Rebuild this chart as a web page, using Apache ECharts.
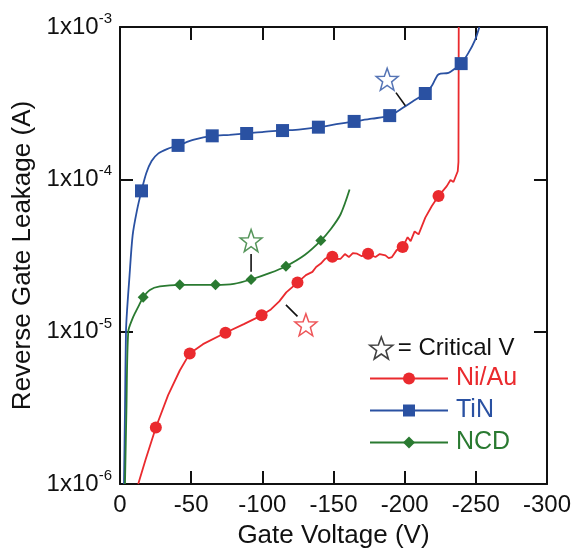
<!DOCTYPE html>
<html>
<head>
<meta charset="utf-8">
<script src="https://cdn.jsdelivr.net/npm/echarts@6/dist/echarts.min.js"></script>
<style>
  html, body { margin: 0; padding: 0; background: #fff; }
  #chart { width: 574px; height: 554px; }
</style>
</head>
<body>
<div id="chart"></div>
<script>
// gate voltage (V) vs reverse gate leakage (A)
const niauCurve = [
  [-12.8, 1e-6], [-18, 1.45e-6], [-25.2, 2.35e-6], [-33.8, 3.83e-6], [-42, 5.56e-6],
  [-49, 7.2e-6], [-58.3, 8.28e-6], [-74.1, 9.84e-6], [-87, 1.12e-5], [-99.5, 1.28e-5],
  [-106, 1.4e-5], [-111.9, 1.58e-5], [-116.8, 1.81e-5], [-124.7, 2.1e-5], [-130.6, 2.35e-5],
  [-135.2, 2.47e-5], [-137.8, 2.66e-5], [-141.1, 2.8e-5], [-144.1, 3.0e-5], [-148, 3.17e-5],
  [-151, 3.0e-5], [-155, 3.01e-5], [-158, 3.23e-5], [-160.8, 3.09e-5], [-163.6, 3.28e-5],
  [-166.6, 3.25e-5], [-169.9, 3.13e-5], [-173.6, 3.32e-5], [-176.2, 3.18e-5], [-179.5, 3.09e-5],
  [-182.5, 3.23e-5], [-186.5, 3.17e-5], [-188.8, 3.04e-5], [-191.1, 3.09e-5], [-194.4, 3.43e-5],
  [-198.6, 3.59e-5], [-202.1, 4.17e-5], [-204.2, 3.93e-5], [-207, 4.55e-5], [-209.8, 4.35e-5],
  [-214.5, 5.61e-5], [-219.1, 6.68e-5], [-223.8, 7.76e-5], [-229.6, 9.02e-5], [-232.2, 9.9e-5],
  [-234.3, 9.6e-5], [-237.3, 1.13e-4], [-237.8, 1.3e-4], [-238, 1e-3]
];
const niauMarks = [
  [-25.2, 2.35e-6], [-49, 7.2e-6], [-74.1, 9.84e-6], [-99.5, 1.28e-5], [-124.7, 2.1e-5],
  [-149.2, 3.1e-5], [-174.3, 3.25e-5], [-198.6, 3.59e-5], [-223.8, 7.76e-5]
];

const tinCurve = [
  [-2.8, 1e-6], [-3.5, 3e-6], [-4.2, 1e-5], [-5, 1.4e-5], [-6.5, 2.2e-5], [-8.9, 4.3e-5],
  [-12, 6.3e-5], [-15.1, 8.4e-5], [-18.5, 1.1e-4], [-22.2, 1.32e-4], [-27, 1.48e-4], [-33, 1.58e-4],
  [-40.8, 1.67e-4], [-52, 1.82e-4], [-64.8, 1.93e-4], [-77, 1.96e-4], [-89, 2.0e-4],
  [-101, 2.05e-4], [-114.2, 2.09e-4], [-127, 2.13e-4], [-139.4, 2.2e-4], [-152, 2.3e-4],
  [-164.5, 2.4e-4], [-177, 2.5e-4], [-189.5, 2.62e-4], [-199.3, 2.97e-4], [-206.3, 3.28e-4],
  [-214.5, 3.66e-4], [-219, 4.1e-4], [-221.5, 4.54e-4], [-223.8, 4.89e-4], [-230.8, 5.0e-4],
  [-235, 5.3e-4], [-239.7, 5.75e-4], [-244.8, 6.76e-4], [-249.5, 8.24e-4], [-252.5, 1e-3]
];
const tinMarks = [
  [-15.1, 8.4e-5], [-40.8, 1.67e-4], [-64.8, 1.93e-4], [-89, 2.0e-4], [-114.2, 2.09e-4],
  [-139.4, 2.2e-4], [-164.5, 2.4e-4], [-189.5, 2.62e-4], [-214.5, 3.66e-4], [-239.7, 5.75e-4]
];

const ncdCurve = [
  [-3.5, 1e-6], [-4.5, 3e-6], [-5.8, 1e-5], [-8.5, 1.2e-5], [-11, 1.35e-5], [-13.5, 1.5e-5],
  [-16.3, 1.68e-5], [-21, 1.88e-5], [-28, 1.98e-5], [-42, 2.03e-5], [-55, 2.03e-5],
  [-67.1, 2.03e-5], [-80, 2.06e-5], [-92.1, 2.2e-5], [-105, 2.42e-5], [-116.6, 2.69e-5],
  [-130, 3.2e-5], [-141.1, 3.96e-5], [-148, 4.7e-5], [-155, 5.9e-5], [-161.3, 8.57e-5]
];
const ncdMarks = [
  [-16.3, 1.68e-5], [-42, 2.03e-5], [-67.1, 2.03e-5], [-92.1, 2.2e-5], [-116.6, 2.69e-5], [-141.1, 3.96e-5]
];

// critical voltage stars and their pointer lines (Ni/Au, TiN, NCD)
const critStars = [[-130.6, 1.11e-5], [-187.7, 4.54e-4], [-92.1, 3.96e-5]];
const critLeaders = [
  [[-116.6, 1.5e-5], [-124.7, 1.26e-5]],
  [[-193.9, 3.71e-4], [-200.5, 3.04e-4]],
  [[-92.1, 3.23e-5], [-92.1, 2.47e-5]]
];

const xTickStep = 50;

const RED = '#ea2a2e', BLUE = '#2a51a2', GREEN = '#2a7a31';
const starColors = [RED, BLUE, GREEN];
const FONT = 'Liberation Sans, Arial, sans-serif';
const STAR = 'path://M12,1 L14.8,8.7 L23,8.9 L16.5,14 L18.8,22 L12,17.3 L5.2,22 L7.5,14 L1,8.9 L9.2,8.7 Z';

const chart = echarts.init(document.getElementById('chart'));

const axisCommon = {
  axisLine: { onZero: false, lineStyle: { color: '#111', width: 2 } },
  axisTick: { inside: true, length: 13, lineStyle: { color: '#111', width: 2 } },
  splitLine: { show: false }
};

function curveSeries(name, data, color, symbol) {
  return {
    name: name, type: 'line', data: data, symbol: symbol, showSymbol: false,
    smooth: name === 'Ni/Au' ? false : 0.3,
    lineStyle: { color: color, width: 1.8 }, itemStyle: { color: color },
    z: 2, silent: true
  };
}
function markSeries(name, data, color, symbol, size) {
  return {
    name: name, type: 'scatter', data: data, symbol: symbol, symbolSize: size,
    itemStyle: { color: color, opacity: 1 }, z: 3, silent: true
  };
}

const series = [
  curveSeries('Ni/Au', niauCurve, RED, 'circle'),
  curveSeries('TiN', tinCurve, BLUE, 'rect'),
  curveSeries('NCD', ncdCurve, GREEN, 'diamond'),
  markSeries('Ni/Au pts', niauMarks, RED, 'circle', 12),
  markSeries('TiN pts', tinMarks, BLUE, 'rect', 13),
  markSeries('NCD pts', ncdMarks, GREEN, 'diamond', 11)
];
critLeaders.forEach(function (seg, i) {
  series.push({
    name: 'leader' + i, type: 'line', data: seg, symbol: 'none',
    lineStyle: { color: '#111', width: 1.6 }, z: 4, silent: true
  });
});
series.push({
  name: '= Critical V', type: 'scatter', symbol: STAR, symbolSize: 22,
  data: critStars.map(function (p, i) {
    return { value: p, itemStyle: { color: '#fff', borderColor: starColors[i], borderWidth: 1.5 } };
  }),
  z: 5, silent: true
});

chart.setOption({
  backgroundColor: '#fff',
  animation: false,
  textStyle: { fontFamily: FONT },
  grid: { left: 120, right: 25, top: 27, bottom: 64 },
  legend: [
    {
      data: [{ name: '= Critical V', icon: STAR,
        itemStyle: { color: '#fff', borderColor: '#111', borderWidth: 1.6 } }],
      left: 364, top: 331, itemWidth: 23, itemHeight: 22, selectedMode: false,
      textStyle: { fontSize: 24, color: '#111', fontFamily: FONT, padding: [0, 0, 0, 0] }
    },
    {
      data: [
        { name: 'Ni/Au', textStyle: { color: RED } },
        { name: 'TiN', textStyle: { color: BLUE } },
        { name: 'NCD', textStyle: { color: GREEN } }
      ],
      orient: 'vertical', left: 364, top: 361, itemWidth: 78, itemHeight: 15, itemGap: 7,
      selectedMode: false,
      textStyle: { fontSize: 25, lineHeight: 24, fontFamily: FONT, padding: [0, 0, 0, 3] }
    }
  ],
  xAxis: [
    Object.assign({
      type: 'value', min: -300, max: 0, interval: xTickStep, inverse: true, position: 'bottom',
      axisLabel: { fontSize: 24, color: '#111', margin: 9, fontFamily: FONT },
      name: 'Gate Voltage (V)', nameLocation: 'middle', nameGap: 39,
      nameTextStyle: { fontSize: 26, color: '#111', fontFamily: FONT }
    }, axisCommon),
    Object.assign({
      type: 'value', min: -300, max: 0, interval: xTickStep, inverse: true, position: 'top',
      axisLabel: { show: false }
    }, axisCommon)
  ],
  yAxis: [
    Object.assign({
      type: 'log', logBase: 10, min: 1e-6, max: 1e-3, position: 'left',
      minorTick: { show: false },
      axisLabel: {
        margin: 8, color: '#111', fontFamily: FONT,
        formatter: function (v) {
          return '{b|1x10}{s|' + Math.round(Math.log10(v)) + '}';
        },
        rich: {
          b: { fontSize: 24, color: '#111', fontFamily: FONT },
          s: { fontSize: 15, color: '#111', fontFamily: FONT, padding: [0, 0, 16, 0] }
        }
      },
      name: 'Reverse Gate Leakage (A)', nameLocation: 'middle', nameGap: 80,
      nameTextStyle: { fontSize: 26, color: '#111', fontFamily: FONT }
    }, axisCommon),
    Object.assign({
      type: 'log', logBase: 10, min: 1e-6, max: 1e-3, position: 'right',
      axisLabel: { show: false }
    }, axisCommon)
  ],
  series: series
});
</script>
</body>
</html>
